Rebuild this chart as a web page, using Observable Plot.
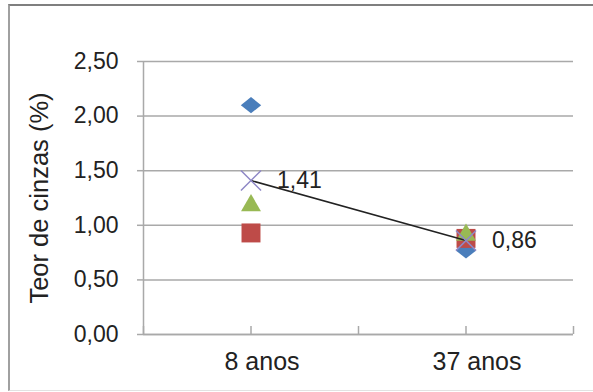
<!DOCTYPE html>
<html>
<head>
<meta charset="utf-8">
<script src="https://cdn.jsdelivr.net/npm/d3@7"></script>
<script src="https://cdn.jsdelivr.net/npm/@observablehq/plot@0.6"></script>
<style>
  html, body { margin: 0; padding: 0; background: #fff; }
  #chart { position: relative; width: 593px; height: 392px; overflow: hidden; }
  #chart svg { display: block; }
  #frame {
    position: absolute; left: 8px; top: 4px; right: -4px; bottom: 1px;
    border-top: 2.5px solid #7f7f7f;
    border-left: 2px solid #a0a0a0;
    border-bottom: 1px solid #e2e2e2;
    pointer-events: none;
  }
</style>
</head>
<body>
<div id="chart"><div id="frame"></div></div>
<script>
// Teor de cinzas por idade
const categories = ["8 anos", "37 anos"];
const serieLosango = [2.10, 0.77];
const serieQuadrado = [0.93, 0.88];
const serieTriangulo = [1.20, 0.93];
const media = [1.41, 0.86];
const yTicks = [0, 0.5, 1, 1.5, 2, 2.5];
const yTitle = "Teor de cinzas (%)";

// each category sits in the middle of a two-unit slot on the x axis
const pos = (i) => 2 * i + 1;
const idx = categories.map((_, i) => i);
const xTickVals = d3.range(0, 2 * categories.length + 1);
const fmt = (v) => v.toFixed(2).replace(".", ",");

// wide rhombus marker
const losango = {
  draw(ctx, size) {
    const a = Math.sqrt(size) / 2;
    ctx.moveTo(0, -a * 0.8);
    ctx.lineTo(a, 0);
    ctx.lineTo(0, a * 0.8);
    ctx.lineTo(-a, 0);
    ctx.closePath();
  }
};

const axisColor = "#a9a9a9";

const chart = Plot.plot({
  width: 593,
  height: 392,
  marginLeft: 143,
  marginRight: 20,
  marginTop: 61,
  marginBottom: 58,
  style: { fontFamily: "'Liberation Sans', Arial, sans-serif", color: "#222", background: "transparent" },
  x: { domain: [0, 2 * categories.length] },
  y: { domain: [0, 2.5] },
  marks: [
    Plot.gridY(yTicks, { stroke: axisColor, strokeOpacity: 1, strokeWidth: 1.5 }),
    Plot.ruleX([0], { stroke: axisColor, strokeWidth: 1.5 }),
    Plot.ruleY([0], { stroke: axisColor, strokeWidth: 1.5 }),
    Plot.axisY(yTicks, {
      tickFormat: fmt, tickSize: 6, tickPadding: 19, fontSize: 23,
      stroke: axisColor, strokeWidth: 1.5, fill: "#222", label: null
    }),
    Plot.tickX(xTickVals, { x: (d) => d, insetTop: 265, stroke: axisColor, strokeWidth: 1.5 }),
    Plot.axisX(idx.map(pos), {
      tickFormat: (d) => categories[(d - 1) / 2], tickSize: 0, tickPadding: 18,
      dx: 11, fontSize: 25, fill: "#222", label: null
    }),
    Plot.text([yTitle], {
      frameAnchor: "left", textAnchor: "middle", lineAnchor: "middle",
      dx: -104, rotate: -90, fontSize: 25.5, fill: "#222", text: (d) => d
    }),
    Plot.dot(idx, { x: pos, y: (i) => serieLosango[i], symbol: losango, r: 11.5, fill: "#4a7ebb", stroke: "none" }),
    Plot.dot(idx, { x: pos, y: (i) => serieQuadrado[i], symbol: "square", r: 10.7, fill: "#be4b48", stroke: "none" }),
    Plot.dot(idx, { x: pos, y: (i) => serieTriangulo[i], symbol: "triangle", r: 7.4, dy: 2, fill: "#98b954", stroke: "none" }),
    Plot.line(idx, { x: pos, y: (i) => media[i], stroke: "#222", strokeWidth: 1.5 }),
    Plot.dot(idx, { x: pos, y: (i) => media[i], symbol: "times", r: 9.2, stroke: "#8f88c6", strokeWidth: 1.5 }),
    Plot.text(idx, {
      x: pos, y: (i) => media[i], text: (i) => fmt(media[i]),
      dx: 26, textAnchor: "start", fontSize: 23, fill: "#222"
    })
  ]
});

document.getElementById("chart").prepend(chart);
</script>
</body>
</html>
